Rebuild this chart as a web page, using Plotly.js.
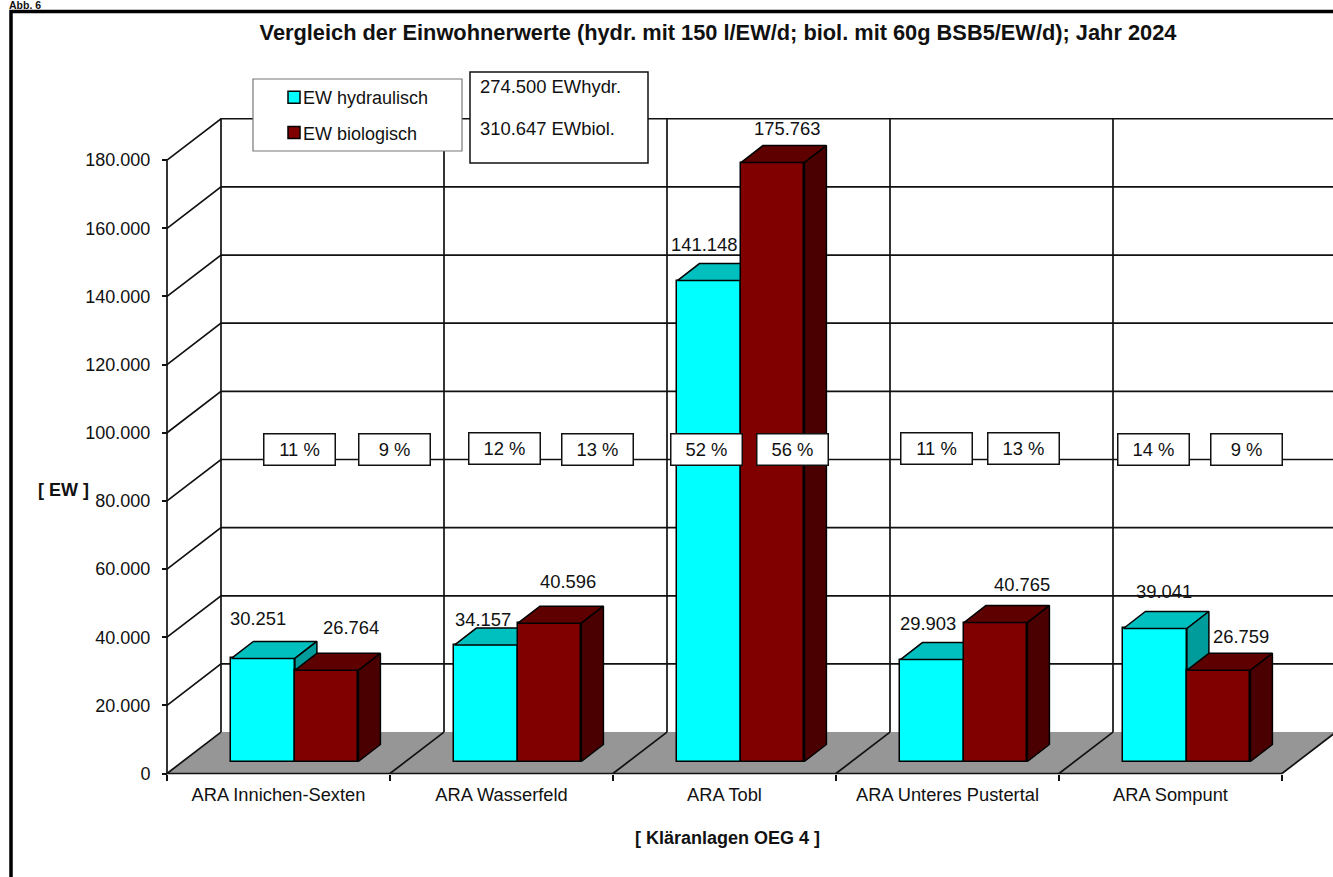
<!DOCTYPE html>
<html><head><meta charset="utf-8">
<script src="https://cdn.plot.ly/plotly-3.0.1.min.js"></script>
<style>html,body{margin:0;padding:0;background:#fff;overflow:hidden}#c{width:1333px;height:877px}</style>
</head><body><div id="c"></div>
<script>
var categories = ["ARA Innichen-Sexten","ARA Wasserfeld","ARA Tobl","ARA Unteres Pustertal","ARA Sompunt"];
var ewHydraulisch = [30251,34157,141148,29903,39041];
var ewBiologisch = [26764,40596,175763,40765,26759];
var pctHydraulisch = ["11 %","12 %","52 %","11 %","14 %"];
var pctBiologisch = ["9 %","13 %","56 %","13 %","9 %"];
var totals = ["274.500 EWhydr.","310.647 EWbiol."];
var yTicks = [0,20000,40000,60000,80000,100000,120000,140000,160000,180000];

// pixel frame of the chart
var W=1333,H=877,X0=167,CAT=223,Y0=773.5,STEP=68.15;
function X(px){return (px-X0)/CAT;}
function Y(py){return (Y0-py)/STEP*20000;}
function dX(px){return px/CAT;}
function dY(px){return px/STEP*20000;}
var xRange=[X(0),X(W)], yRange=[Y(H),Y(0)];
var wallDx=dX(54), wallDy=dY(41.4), floorDx=dX(16.4), floorDy=dY(12), barW=dX(63.5), depthX=dX(22), depthY=dY(17);
var n=categories.length, yMax=yTicks[yTicks.length-1];

var traces=[];
// floor
traces.push({x:[0,n,n+wallDx,wallDx,0],y:[0,0,wallDy,wallDy,0],mode:'lines',fill:'toself',fillcolor:'#969696',line:{width:0},showlegend:false,hoverinfo:'skip'});
// walls
var gx=[],gy=[];
yTicks.forEach(function(v){ if(v>0){gx.push(0,wallDx,X(W)+1,null);gy.push(v,v+wallDy,v+wallDy,null);} });
for(var i=0;i<=n;i++){gx.push(i+wallDx,i+wallDx,null);gy.push(wallDy,yMax+wallDy,null);}
for(var i=0;i<=n;i++){gx.push(i,i+wallDx,null);gy.push(0,wallDy,null);}
gx.push(0,0,null,0,n);gy.push(0,yMax,null,0,0);
traces.push({x:gx,y:gy,mode:'lines',line:{color:'#111',width:1.7},showlegend:false,hoverinfo:'skip'});

function series(name,vals,shift,front,top,side,ax,ay,group){
  var xs=vals.map(function(_,i){return i+0.5+floorDx+shift;});
  traces.push({type:'bar',name:name,x:xs,y:vals,base:vals.map(function(){return floorDy;}),width:barW,
    marker:{color:front,line:{color:'#000',width:1.5}},xaxis:ax,yaxis:ay,legendgroup:group,showlegend:true});
  vals.forEach(function(v,i){
    var l=xs[i]-barW/2,r=xs[i]+barW/2,t=v+floorDy;
    traces.push({x:[l,l+depthX,r+depthX,r,l],y:[t,t+depthY,t+depthY,t,t],mode:'lines',fill:'toself',fillcolor:top,line:{color:'#000',width:1.5},xaxis:ax,yaxis:ay,showlegend:false,hoverinfo:'skip'});
    traces.push({x:[r,r+depthX,r+depthX,r,r],y:[t,t+depthY,floorDy+depthY,floorDy,t],mode:'lines',fill:'toself',fillcolor:side,line:{color:'#000',width:1.5},xaxis:ax,yaxis:ay,showlegend:false,hoverinfo:'skip'});
  });
}
series('EW hydraulisch',ewHydraulisch,-barW/2,'#00FFFF','#00BFBF','#009C9C','x2','y2','a');
series('EW biologisch',ewBiologisch,barW/2,'#800000','#5E0000','#4A0000','x3','y3','b');

var fmt=function(v){return String(v).replace(/\B(?=(\d{3})+$)/g,'.');};
var txt={family:'"Liberation Sans",Arial,sans-serif',color:'#111',size:18.4};
var ann=[];
// value label offsets in px from the centre of the bar top
var hShift=[[-5,-3,-5,-4,9],[24,18,14,26,22]], vShift=[[40,26,36,36,37],[43,42,34,38,34]];
[ewHydraulisch,ewBiologisch].forEach(function(vals,s){
  vals.forEach(function(v,i){
    ann.push({x:i+0.5+floorDx+(s?1:-1)*barW/2,y:v+floorDy,xref:'x',yref:'y',text:fmt(v),showarrow:false,
      xshift:hShift[s][i],yshift:vShift[s][i],font:txt});
  });
});
// percent boxes
var pctPx=[[299,504,706,936,1153],[394,597,792,1023,1246]], pctPy=[[449,448,449,448,449],[449,449,449,448,449]];
[pctHydraulisch,pctBiologisch].forEach(function(p,s){
  p.forEach(function(t,i){
    ann.push({x:X(pctPx[s][i]),y:Y(pctPy[s][i]),xref:'x',yref:'y',text:t,showarrow:false,font:txt,
      width:70,height:30,bgcolor:'#fff',bordercolor:'#111',borderwidth:1.5,borderpad:0});
  });
});
function P(px,py,t,font,extra){var a={xref:'paper',yref:'paper',x:px/W,y:1-py/H,text:t,showarrow:false,font:font,xanchor:'left',yanchor:'middle'};for(var k in extra)a[k]=extra[k];return a;}
ann.push(P(478,86,totals[0],txt));
ann.push(P(478,128,totals[1],txt));
ann.push(P(36,490,'<b>[ EW ]</b>',{family:txt.family,size:18,color:'#111'}));
ann.push(P(727,838,'<b>[ Kläranlagen OEG 4 ]</b>',{family:txt.family,size:18,color:'#111'},{xanchor:'center'}));
ann.push(P(7,5,'<b>Abb. 6</b>',{family:txt.family,size:10.5,color:'#111'}));

var axisTick={family:txt.family,size:18,color:'#111'};
var layout={
  width:W,height:H,margin:{l:0,r:0,t:0,b:0,pad:0},autosize:false,
  paper_bgcolor:'#fff',plot_bgcolor:'#fff',separators:',.',bargap:0,
  barmode:'overlay',
  title:{text:'<b>Vergleich der Einwohnerwerte (hydr. mit 150 l/EW/d; biol. mit 60g BSB5/EW/d); Jahr 2024</b>',
    font:{family:txt.family,size:21.8,color:'#111'},x:718/W,xanchor:'center',y:1-32/H,yanchor:'middle'},
  xaxis:{range:xRange,domain:[0,1],anchor:'free',position:1-Y0/H,showgrid:false,zeroline:false,showline:false,
    tickmode:'array',tickvals:categories.map(function(_,i){return i+0.5;}),ticktext:categories,ticks:'',
    tickfont:{family:txt.family,size:18.3,color:'#111'},ticklabelstandoff:8,
    minor:{tickmode:'array',tickvals:categories.map(function(_,i){return i;}).concat([n]),ticks:'outside',ticklen:6,tickwidth:1.5,tickcolor:'#111',showgrid:false}},
  yaxis:{range:yRange,domain:[0,1],anchor:'free',position:X0/W,showgrid:false,zeroline:false,showline:false,
    tickmode:'array',tickvals:yTicks,tickformat:',d',ticks:'outside',ticklen:5,tickwidth:1.5,tickcolor:'#111',
    tickfont:axisTick,ticklabelstandoff:8},
  xaxis2:{range:xRange,overlaying:'x',anchor:'y2',visible:false},
  yaxis2:{range:yRange,overlaying:'y',anchor:'x2',visible:false},
  xaxis3:{range:xRange,overlaying:'x',anchor:'y3',visible:false},
  yaxis3:{range:yRange,overlaying:'y',anchor:'x3',visible:false},
  legend:{x:263/W,y:1-79/H,xanchor:'left',yanchor:'top',bgcolor:'rgba(0,0,0,0)',borderwidth:0,
    font:{family:txt.family,size:18,color:'#111'},tracegroupgap:9,itemclick:false,itemdoubleclick:false,traceorder:'grouped'},
  shapes:[
    {type:'rect',xref:'paper',yref:'paper',x0:253/W,x1:462/W,y0:1-79/H,y1:1-151/H,fillcolor:'#fff',line:{color:'#777',width:1.2},layer:'above'},
    {type:'rect',xref:'paper',yref:'paper',x0:470/W,x1:648/W,y0:1-72/H,y1:1-163/H,fillcolor:'#fff',line:{color:'#111',width:1.5},layer:'above'},
    {type:'rect',xref:'paper',yref:'paper',x0:11/W,x1:1.1,y0:1-11.5/H,y1:-0.1,fillcolor:'rgba(0,0,0,0)',line:{color:'#000',width:3.5},layer:'above'}
  ],
  annotations:ann
};
Plotly.newPlot('c',traces,layout,{displayModeBar:false,responsive:false}).then(function(){
  // the reference keeps its legend swatches close to their labels
  document.querySelectorAll('.legend .legendpoints').forEach(function(g){g.setAttribute('transform','translate(11,0)');});
});
</script></body></html>
